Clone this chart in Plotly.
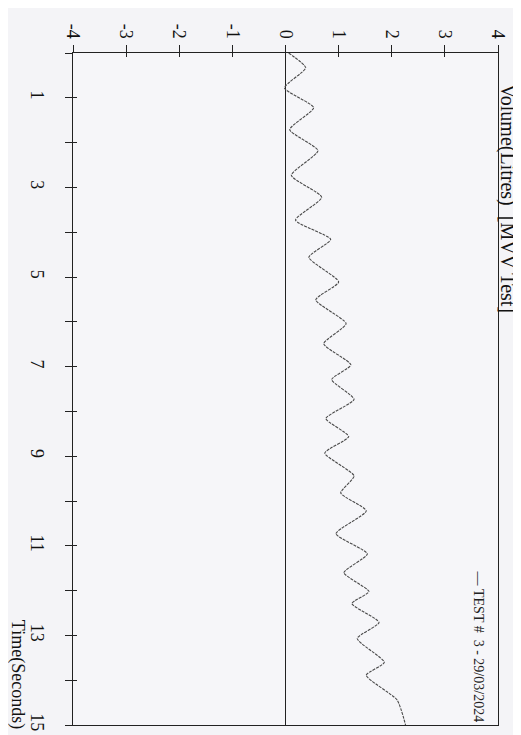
import plotly.graph_objects as go

# Volume-time trace (MVV test): time (s), volume (L)
time_s = [0.00, 0.33, 0.78, 1.22, 1.71, 2.18, 2.73, 3.22, 3.73, 4.16, 4.56,
          5.11, 5.51, 6.04, 6.49, 6.96, 7.29, 7.73, 8.16, 8.56, 8.93, 9.44,
          9.82, 10.22, 10.73, 11.18, 11.60, 12.02, 12.29, 12.71, 13.07, 13.60,
          13.89, 14.44, 15.00]
volume_l = [0.06, 0.38, -0.02, 0.53, 0.08, 0.61, 0.11, 0.68, 0.19, 0.85, 0.44,
            1.00, 0.57, 1.14, 0.72, 1.23, 0.87, 1.29, 0.76, 1.19, 0.74, 1.29,
            1.04, 1.52, 0.95, 1.54, 1.10, 1.57, 1.25, 1.76, 1.35, 1.86,
            1.52, 2.10, 2.26]

vol_ticks = [-4, -3, -2, -1, 0, 1, 2, 3, 4]
vol_ticktext = ["-4", "-3", "-2", "-1", "0", "1", "2", "3", "4"]
time_ticks = list(range(0, 16))
time_ticktext = [str(t) if t % 2 == 1 else "" for t in time_ticks]

series_name = "TEST #\u00a0\u00a03 - 29/03/2024"
x_title = "Volume(Litres)\u00a0\u00a0[MVV Test]"
y_title = "Time(Seconds)"

FONT = "Liberation Serif"
INK = "#222"

fig = go.Figure()
fig.add_trace(go.Scatter(
    x=volume_l, y=time_s, mode="lines",
    line=dict(color="#4a4a4a", width=1.1, dash="3px,1px", shape="spline", smoothing=0.55),
    name=series_name, showlegend=False, hoverinfo="skip",
))
# empty trace to carry the inner tick marks (ticks cross the frame)
fig.add_trace(go.Scatter(x=[], y=[], xaxis="x2", yaxis="y2", showlegend=False))

axis_common = dict(showgrid=False, tickcolor=INK)

fig.update_layout(
    width=521, height=735,
    margin=dict(l=65, r=31, t=45, b=13),
    paper_bgcolor="#f4f4f7",
    plot_bgcolor="#f6f6f9",
    font=dict(family=FONT, size=18, color="#111"),
    xaxis=dict(
        side="top", range=[-4, 4], tickvals=vol_ticks, ticktext=vol_ticktext,
        ticks="outside", ticklen=7, tickangle=90,
        showline=True, mirror=True, linecolor=INK, linewidth=1,
        zeroline=True, zerolinecolor=INK, zerolinewidth=1,
        tickfont=dict(family=FONT, size=18), **axis_common,
    ),
    yaxis=dict(
        range=[15, 0], tickvals=time_ticks, ticktext=time_ticktext,
        ticks="outside", ticklen=7, tickangle=90,
        showline=True, mirror=True, linecolor=INK, linewidth=1,
        zeroline=False,
        tickfont=dict(family=FONT, size=18), ticklabelstandoff=12, **axis_common,
    ),
    xaxis2=dict(
        overlaying="x", side="top", range=[-4, 4], tickvals=vol_ticks,
        ticks="inside", ticklen=4, showticklabels=False, showline=False,
        zeroline=False, **axis_common,
    ),
    yaxis2=dict(
        overlaying="y", side="left", range=[15, 0], tickvals=time_ticks,
        ticks="inside", ticklen=4, showticklabels=False, showline=False,
        zeroline=False, **axis_common,
    ),
    annotations=[
        dict(text=x_title, xref="paper", yref="paper", x=1.021, y=0.783,
             textangle=90, showarrow=False, xanchor="center", yanchor="middle",
             font=dict(family=FONT, size=20, color="#111")),
        dict(text=y_title, xref="paper", yref="paper", x=-0.13, y=0.075,
             textangle=90, showarrow=False, xanchor="center", yanchor="middle",
             font=dict(family=FONT, size=18, color="#111")),
        dict(text="\u2014\u00a0" + series_name, xref="paper", yref="paper", x=0.955, y=0.117,
             textangle=90, showarrow=False, xanchor="center", yanchor="middle",
             font=dict(family=FONT, size=14, color="#222")),
    ],
)

fig.write_html("out.html")
